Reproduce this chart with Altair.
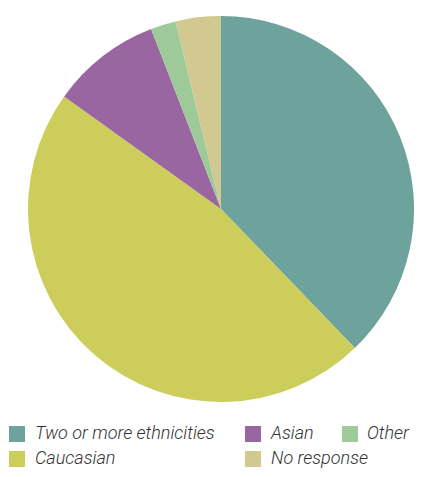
import altair as alt
import pandas as pd

categories = ["Two or more ethnicities", "Caucasian", "Asian", "Other", "No response"]
values = [37.8, 47.1, 9.2, 2.1, 3.8]
order = [1, 2, 3, 4, 5]
colors = {
    "Two or more ethnicities": "#6ea29c",
    "Caucasian": "#cdcd5c",
    "Asian": "#9966a1",
    "Other": "#9dca98",
    "No response": "#d2c990",
}
legend_main = ["Two or more ethnicities", "Asian", "Caucasian", "No response"]
legend_extra = ["Other"]

df = pd.DataFrame({"category": categories, "value": values, "order": order})

label_style = dict(
    title=None,
    orient="none",
    direction="horizontal",
    symbolType="square",
    symbolSize=256,
    symbolStrokeWidth=0,
    labelFont="Roboto",
    labelFontStyle="italic",
    labelFontWeight=300,
    labelFontSize=18,
    labelColor="#333333",
    labelLimit=300,
    rowPadding=7,
)

base = alt.Chart(df).transform_joinaggregate(
    total="sum(value)"
).transform_window(
    cum="sum(value)", sort=[alt.SortField("order")], frame=[None, 0]
).transform_calculate(
    start="(datum.cum - datum.value) / datum.total * 2 * PI",
    end="datum.cum / datum.total * 2 * PI",
)

arc_kw = dict(radius=193, stroke=None)
cx, cy = 213, 201

main = base.transform_filter(
    alt.FieldOneOfPredicate(field="category", oneOf=legend_main)
).mark_arc(**arc_kw).encode(
    theta=alt.Theta("start:Q", scale=None),
    theta2="end:Q",
    x=alt.value(cx),
    y=alt.value(cy),
    color=alt.Color(
        "category:N",
        scale=alt.Scale(domain=legend_main, range=[colors[c] for c in legend_main]),
        legend=alt.Legend(legendX=0, legendY=417, columns=2, columnPadding=29,
                          labelOffset=9, **label_style),
    ),
)

extra = base.transform_filter(
    alt.FieldOneOfPredicate(field="category", oneOf=legend_extra)
).mark_arc(**arc_kw).encode(
    theta=alt.Theta("start:Q", scale=None),
    theta2="end:Q",
    x=alt.value(cx),
    y=alt.value(cy),
    color=alt.Color(
        "category:N",
        scale=alt.Scale(domain=legend_extra, range=[colors[c] for c in legend_extra]),
        legend=alt.Legend(legendX=333, legendY=417, columns=1, labelOffset=8,
                          **label_style),
    ),
)

chart = alt.layer(main, extra).resolve_scale(color="independent").properties(
    width=406,
    height=461,
    autosize="none",
    padding=0,
).configure_view(stroke=None)

chart.save("out.html", embed_options={"renderer": "svg", "actions": False})
